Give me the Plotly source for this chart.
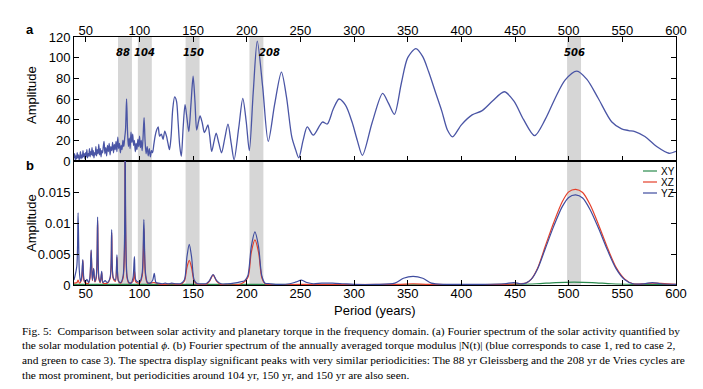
import plotly.graph_objects as go

# ---------------- Panel a: solar activity spectrum ----------------
period_a = [
    39.0, 39.6, 40.2, 40.8, 41.4, 42.0, 42.6, 43.2, 43.8, 44.4,
    45.0, 45.6, 46.2, 46.8, 47.4, 48.0, 48.6, 49.2, 49.8, 50.4,
    51.0, 51.6, 52.2, 52.8, 53.4, 54.0, 54.6, 55.2, 55.8, 56.4,
    57.0, 57.6, 58.2, 58.8, 59.4, 60.0, 60.7, 61.4, 62.1, 62.8,
    63.5, 64.2, 64.9, 65.6, 66.3, 67.0, 67.8, 68.6, 69.4, 70.2,
    71.0, 71.8, 72.6, 73.4, 74.2, 75.0, 75.8, 76.6, 77.4, 78.2,
    79.0, 79.8, 80.6, 81.4, 82.2, 83.0, 83.8, 84.6, 85.4, 86.2,
    87.0, 88.0, 88.9, 89.7, 90.5, 91.3, 92.1, 92.9, 93.7, 94.5,
    95.3, 96.1, 96.9, 97.7, 98.5, 99.3, 100.1, 100.9, 101.7, 102.5,
    103.4, 104.3, 105.2, 106.2, 107.2, 108.2, 109.2, 110.2, 111.2, 112.2,
    113.4, 114.6, 116.0, 117.4, 118.8, 120.4, 122.0, 123.6, 125.2, 126.6,
    128.0, 129.5, 131.0, 132.8, 134.5, 136.0, 137.5, 139.0, 140.7, 142.5,
    144.2, 146.0, 148.0, 150.0, 151.7, 153.3, 155.0, 156.5, 158.5, 160.5,
    162.2, 163.8, 165.5, 167.3, 169.5, 171.5, 174.0, 176.5, 179.5, 182.5,
    185.5, 188.2, 192.5, 196.3, 199.5, 202.4, 206.0, 209.8, 214.8, 220.0,
    226.0, 232.3, 237.0, 242.0, 245.5, 248.5, 252.5, 256.4, 262.0, 270.5,
    275.0, 280.5, 286.0, 292.0, 298.2, 303.0, 307.8, 316.8, 326.6, 332.0,
    337.6, 344.0, 350.0, 357.6, 364.0, 369.5, 376.0, 381.9, 387.0, 391.8,
    400.0, 410.0, 419.0, 429.0, 440.0, 449.0, 458.0, 468.2, 478.0, 487.5,
    496.6, 507.6, 517.0, 527.5, 540.0, 549.3, 556.0, 561.7, 571.0, 582.0,
    593.5, 600.0,
]
amp_a = [
    3, 7, 1, 5, 2, 8, 3, 6, 1, 4,
    9, 2, 6, 3, 10, 4, 7, 2, 8, 4,
    11, 3, 7, 5, 12, 4, 9, 6, 13, 5,
    10, 3, 8, 6, 14, 5, 11, 7, 16, 6,
    12, 4, 10, 8, 14, 19, 7, 13, 5, 15,
    9, 17, 6, 14, 10, 18, 8, 16, 11, 19,
    9, 23, 12, 17, 8, 15, 11, 20, 14, 22,
    30, 60, 28, 14, 22, 12, 28, 18, 26, 15,
    20, 9, 17, 11, 21, 14, 24, 13, 20, 10,
    24, 42, 20, 7, 14, 5, 12, 4, 10, 8,
    16, 24, 30, 33, 24, 26, 21, 29, 24, 17,
    11, 24, 50, 62, 58, 38, 15, 4.5, 32, 54.5,
    42, 28.5, 55, 82, 58, 30, 38, 43.6, 37, 27.5,
    31, 35, 24, 9.3, 19, 27, 17, 8, 22, 35.6,
    17, 1.2, 32, 60.6, 38, 10, 66, 116, 72, 19,
    55, 86, 62, 23, 11, 3, 20, 33, 25, 37.7,
    35.8, 50, 60, 54, 37.5, 20, 5.5, 37, 65.5, 56,
    45.2, 75, 100, 108.8, 101, 86.3, 66, 47.8, 30, 23.4,
    35, 44.6, 48.5, 58, 67, 58, 40, 24.5, 40, 61,
    78.3, 87, 79, 60.7, 38, 31.1, 29.5, 28.5, 23.7, 14,
    7.5, 9.3,
]

# ---------------- Panel b: torque spectra ----------------
period_yz = [
    39.0, 41.6, 42.8, 43.9, 45.0, 46.0, 47.2, 48.3, 49.5, 51.0,
    52.5, 53.8, 55.0, 56.1, 57.3, 58.4, 59.8, 61.0, 62.2, 63.5,
    64.8, 66.0, 68.0, 70.0, 72.6, 74.1, 75.6, 77.6, 79.0, 80.4,
    82.5, 84.8, 86.6, 88.4, 90.2, 92.2, 94.0, 95.3, 96.6, 98.6,
    100.6, 102.6, 104.1, 105.6, 107.5, 110.0, 112.4, 113.8, 115.4, 118.0,
    121.0, 124.0, 127.0, 130.0, 134.0, 138.0, 141.8, 144.2, 146.4, 148.6,
    151.0, 154.0, 158.0, 162.0, 165.2, 168.6, 172.0, 176.0, 182.0, 188.0,
    194.0, 198.0, 201.0, 204.2, 207.6, 211.0, 214.0, 217.0, 222.0, 230.0,
    240.0, 246.0, 251.0, 256.0, 262.0, 270.0, 280.0, 290.0, 300.0, 320.0,
    338.0, 346.0, 355.0, 364.0, 372.0, 385.0, 400.0, 420.0, 440.0, 449.0,
    455.0, 460.0, 465.0, 471.0, 478.0, 486.0, 494.0, 500.0, 506.5, 513.0,
    520.0, 528.0, 536.0, 544.0, 552.0, 560.0, 570.0, 578.0, 586.0, 600.0,
]
amp_yz = [
    0.0008, 0.003, 0.0117, 0.0025, 0.0006, 0.0012, 0.0041, 0.0009, 0.0005, 0.0009,
    0.0004, 0.0012, 0.0057, 0.0008, 0.0027, 0.0006, 0.0015, 0.011, 0.0012, 0.0005,
    0.0022, 0.0004, 0.0007, 0.0004, 0.0012, 0.009, 0.0012, 0.0008, 0.0049, 0.0007,
    0.0004, 0.0015, 0.028, 0.0015, 0.0004, 0.0003, 0.0012, 0.0046, 0.0008, 0.0005,
    0.0006, 0.002, 0.0106, 0.002, 0.0004, 0.0003, 0.0008, 0.0019, 0.0004, 0.0003,
    0.0002, 0.0003, 0.0002, 0.0003, 0.0002, 0.0002, 0.0008, 0.0045, 0.0066, 0.0045,
    0.0008, 0.0002, 0.0002, 0.0002, 0.0007, 0.0017, 0.0007, 0.0002, 0.0002, 0.0003,
    0.0005, 0.0007, 0.0015, 0.0062, 0.0086, 0.0062, 0.0015, 0.0003, 0.0002, 0.0001,
    0.0002, 0.0005, 0.0008, 0.0004, 0.0002, 0.0003, 0.0003, 0.0002, 0.0001, 0.0001,
    0.0003, 0.0011, 0.0014, 0.0011, 0.0003, 0.0001, 0.0001, 0.0001, 0.0002, 0.0004,
    0.0002, 0.0003, 0.0009, 0.0026, 0.0058, 0.0095, 0.0127, 0.0142, 0.0146, 0.0141,
    0.0122, 0.0091, 0.0057, 0.0027, 0.0009, 0.0002, 0.0002, 0.0004, 0.0002, 0.0001,
]

period_xz = [
    39.0, 41.8, 42.8, 44.0, 46.0, 47.2, 48.3, 50.0, 52.5, 53.8,
    55.0, 56.1, 57.3, 58.4, 59.8, 61.0, 62.2, 63.5, 64.8, 66.0,
    70.0, 72.6, 74.1, 75.6, 77.6, 79.0, 80.4, 82.5, 84.8, 86.6,
    88.4, 90.2, 94.0, 95.3, 96.6, 100.0, 102.6, 104.1, 105.6, 107.5,
    113.8, 120.0, 130.0, 138.0, 141.8, 144.2, 146.4, 148.6, 151.0, 154.0,
    162.0, 165.2, 168.6, 172.0, 176.0, 195.0, 201.0, 204.2, 207.6, 211.0,
    214.0, 217.0, 250.0, 340.0, 355.0, 370.0, 440.0, 455.0, 460.0, 465.0,
    471.0, 478.0, 486.0, 494.0, 500.0, 506.5, 513.0, 520.0, 528.0, 536.0,
    544.0, 552.0, 560.0, 570.0, 578.0, 600.0,
]
amp_xz = [
    0.0003, 0.0004, 0.0008, 0.0003, 0.0008, 0.004, 0.0007, 0.0003, 0.0003, 0.001,
    0.0055, 0.0007, 0.0026, 0.0005, 0.0012, 0.0105, 0.001, 0.0004, 0.002, 0.0003,
    0.0003, 0.001, 0.0085, 0.001, 0.0006, 0.0045, 0.0006, 0.0003, 0.0012, 0.028,
    0.0012, 0.0003, 0.0006, 0.0022, 0.0005, 0.0003, 0.0015, 0.0092, 0.0015, 0.0003,
    0.0004, 0.0001, 0.0002, 0.0001, 0.0006, 0.0028, 0.004, 0.0028, 0.0006, 0.0001,
    0.0001, 0.0006, 0.0016, 0.0006, 0.0001, 0.0002, 0.0012, 0.0053, 0.0073, 0.0053,
    0.0012, 0.0002, 0.0001, 0.0001, 0.0002, 0.0001, 0.0001, 0.0002, 0.0003, 0.0009,
    0.0027, 0.0062, 0.0101, 0.0135, 0.0151, 0.0155, 0.015, 0.013, 0.0097, 0.0061,
    0.0029, 0.001, 0.0002, 0.0002, 0.0003, 0.0001,
]

period_xy = [39, 100, 200, 300, 400, 450, 470, 488, 505, 522, 540, 560, 600]
amp_xy = [0.0001, 0.0001, 0.0001, 0.00005, 0.00005, 0.0001, 0.0002, 0.0004,
          0.00045, 0.0004, 0.0002, 0.0001, 0.00005]

# highlighted periodicities (band edges) and labels
band_lo = [80, 98.5, 143, 202.5, 498.5]
band_hi = [93, 111.5, 156, 215.5, 511.5]
band_labels = ["88", "104", "150", "208", "506"]
band_label_x = [84.5, 105, 150, 221.5, 505]

x_ticks = [50, 100, 150, 200, 250, 300, 350, 400, 450, 500, 550, 600]
ya_ticks = [0, 20, 40, 60, 80, 100, 120]
yb_ticks = [0, 0.005, 0.01, 0.015]
yb_ticktext = ["0", "0.005", "0.01", "0.015"]

series_names = ["XY", "XZ", "YZ"]

caption_lines = [
    "Fig. 5:  Comparison between solar activity and planetary torque in the frequency domain. (a) Fourier spectrum of the solar activity quantified by",
    "the solar modulation potential <i>ϕ</i>. (b) Fourier spectrum of the annually averaged torque modulus |N(t)| (blue corresponds to case 1, red to case 2,",
    "and green to case 3). The spectra display significant peaks with very similar periodicities: The 88 yr Gleissberg and the 208 yr de Vries cycles are",
    "the most prominent, but periodicities around 104 yr, 150 yr, and 150 yr are also seen.",
]

SANS = "Liberation Sans, Arial, sans-serif"
BLUE = "#3f4c9f"
RED = "#e5402b"
GREEN = "#2b8a4e"
colors_b = [GREEN, RED, BLUE]

fig = go.Figure()
fig.add_trace(go.Scatter(x=period_a, y=amp_a, mode="lines", xaxis="x", yaxis="y",
                         line=dict(color="#4a55a5", width=1.3, shape="spline", smoothing=0.8),
                         showlegend=False, name="solar"))
for name, xs, ys, col in zip(series_names, [period_xy, period_xz, period_yz],
                             [amp_xy, amp_xz, amp_yz], colors_b):
    fig.add_trace(go.Scatter(x=xs, y=ys, mode="lines", xaxis="x2", yaxis="y2", name=name,
                             showlegend=False,
                             line=dict(color=col, width=1.2, shape="spline", smoothing=0.8)))

# plot-area pixel geometry helpers (for placing decorations)
L, R, T, B = 74, 676, 37, 285
def px(xp):
    return (xp - L) / (R - L)
def py(yp):
    return (B - yp) / (B - T)

shapes = []
for lo, hi in zip(band_lo, band_hi):
    shapes.append(dict(type="rect", xref="x", yref="paper", x0=lo, x1=hi, y0=0, y1=1,
                       fillcolor="#d6d6d6", line=dict(width=0), layer="below"))

annotations = []
for lab, lx in zip(band_labels, band_label_x):
    annotations.append(dict(x=lx, y=105, xref="x", yref="y", text="<b><i>%s</i></b>" % lab,
                            xanchor="center", yanchor="middle",
                            showarrow=False, font=dict(family="DejaVu Sans", size=10, color="black")))

# manual compact legend
for name, col, ly in zip(series_names, colors_b, [171, 182, 193]):
    shapes.append(dict(type="line", xref="paper", yref="paper", x0=px(643), x1=px(657),
                       y0=py(ly), y1=py(ly), line=dict(color=col, width=1.2)))
    annotations.append(dict(x=px(659), y=py(ly), xref="paper", yref="paper", text=name,
                            xanchor="left", yanchor="middle", showarrow=False,
                            font=dict(family=SANS, size=10, color="black")))

annotations += [
    dict(x=px(30), y=py(29), xref="paper", yref="paper", text="<b>a</b>", showarrow=False,
         xanchor="center", yanchor="middle", font=dict(family=SANS, size=13, color="black")),
    dict(x=px(30), y=py(165), xref="paper", yref="paper", text="<b>b</b>", showarrow=False,
         xanchor="center", yanchor="middle", font=dict(family=SANS, size=13, color="black")),
    dict(x=px(31), y=py(95), xref="paper", yref="paper", text="Amplitude", textangle=-90,
         xanchor="center", yanchor="middle",
         showarrow=False, font=dict(family=SANS, size=13, color="black")),
    dict(x=px(31), y=py(223), xref="paper", yref="paper", text="Amplitude", textangle=-90,
         xanchor="center", yanchor="middle",
         showarrow=False, font=dict(family=SANS, size=13, color="black")),
    dict(x=0.5, y=py(310), xref="paper", yref="paper", text="Period (years)",
         xanchor="center", yanchor="middle",
         showarrow=False, font=dict(family=SANS, size=13, color="black")),
]
for line, cy in zip(caption_lines, [331, 345.5, 360, 374.5]):
    annotations.append(dict(x=px(20), y=py(cy), xref="paper", yref="paper", text=line,
                            xanchor="left", yanchor="middle", showarrow=False,
                            font=dict(family="Liberation Serif, Times New Roman, serif",
                                      size=11.4, color="black")))

axis_common = dict(showline=True, linecolor="black", linewidth=1, ticks="inside", ticklen=5,
                   tickcolor="black", showgrid=False, zeroline=False,
                   tickfont=dict(family=SANS, size=13, color="black"))

fig.update_layout(
    width=703, height=389,
    margin=dict(l=L, r=703 - R, t=T, b=389 - B),
    paper_bgcolor="white", plot_bgcolor="white",
    shapes=shapes, annotations=annotations,
    xaxis=dict(domain=[0, 1], anchor="y", side="top", range=[39, 600], tickvals=x_ticks,
               mirror="ticks", ticklabelstandoff=-4, **axis_common),
    yaxis=dict(domain=[0.5, 1], anchor="x", range=[0, 120], tickvals=ya_ticks,
               mirror="ticks", **axis_common),
    xaxis2=dict(domain=[0, 1], anchor="y2", range=[39, 600], tickvals=x_ticks,
                mirror=True, ticklabelstandoff=-4, **axis_common),
    yaxis2=dict(domain=[0, 0.5], anchor="x2", range=[0, 0.0201], tickvals=yb_ticks,
                ticktext=yb_ticktext, mirror="ticks", **axis_common),
    showlegend=False,
)

fig.write_html("out.html", config={"displayModeBar": False},
               post_script="document.body.style.margin='0';")
